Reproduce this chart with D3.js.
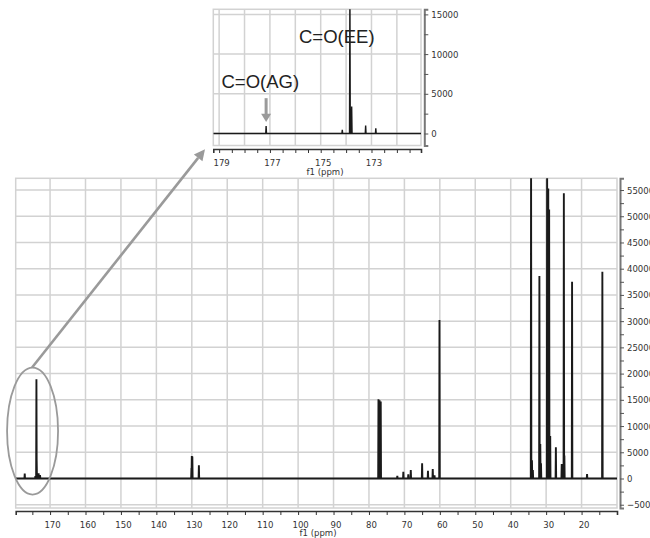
<!DOCTYPE html>
<html>
<head>
<meta charset="utf-8">
<script src="https://cdn.jsdelivr.net/npm/d3@7"></script>
<style>
  body { margin: 0; background: #fff; }
  text { font-family: "DejaVu Sans Condensed", "DejaVu Sans", sans-serif; font-size: 9.5px; fill: #333; }
  .lbl { font-family: "Liberation Sans", Arial, sans-serif; font-size: 18.5px; fill: #222; }
</style>
</head>
<body>
<script>
// peaks: shift (ppm) and height
var peakPpm = [177.15, 174.15, 173.85, 173.78, 173.23, 172.83,
  130.1, 130.0, 129.85, 128.0,
  77.32, 77.0, 76.68, 72.0, 70.3, 68.9, 68.2, 65.0, 63.35, 62.0, 61.5, 60.1,
  34.25, 34.0, 33.75, 31.9, 31.65, 31.45, 29.72, 29.4, 29.15, 28.85,
  27.25, 25.6, 25.0, 24.85, 22.68, 18.45, 14.13];
var peakHeight = [950, 450, 18900, 3400, 1000, 650,
  2000, 4300, 4200, 2500,
  15100, 14900, 14700, 500, 1300, 800, 1600, 2900, 1450, 1800, 600, 30200,
  62000, 3500, 1600, 38600, 6600, 2900, 62000, 55300, 51300, 8100,
  5950, 2750, 54400, 4400, 37500, 850, 39400];

var mainXTicks = [175, 170, 165, 160, 155, 150, 145, 140, 135, 130, 125, 120, 115, 110, 105, 100,
  95, 90, 85, 80, 75, 70, 65, 60, 55, 50, 45, 40, 35, 30, 25, 20, 15];
var mainYTicks = [-5000, -2500, 0, 2500, 5000, 7500, 10000, 12500, 15000, 17500, 20000, 22500, 25000,
  27500, 30000, 32500, 35000, 37500, 40000, 42500, 45000, 47500, 50000, 52500, 55000];
var insetXTicks = [179, 178.5, 178, 177.5, 177, 176.5, 176, 175.5, 175, 174.5, 174, 173.5, 173, 172.5, 172, 171.5];
var insetYTicks = [0, 2500, 5000, 7500, 10000, 12500, 15000];

var svg = d3.select("body").append("svg")
  .attr("width", 650)
  .attr("height", 538);

// build a spike for every peak, joined by the baseline
function spectrum(x0, x1, w) {
  var pts = [[x0, 0]];
  peakPpm.forEach(function(p, i) {
    if (p < x0 && p > x1) {
      pts.push([p + w, 0], [p, peakHeight[i]], [p - w, 0]);
    }
  });
  pts.push([x1, 0]);
  return pts;
}

function panel(g, x, y, opt) {
  var x0 = x.domain()[0], x1 = x.domain()[1];
  var r = x.range(), ry = y.range();
  var id = opt.id;

  // grid
  g.append("g").selectAll("line.v")
    .data(opt.xGrid).enter().append("line")
    .attr("x1", d => x(d)).attr("x2", d => x(d))
    .attr("y1", ry[1]).attr("y2", ry[0])
    .attr("stroke", "#d2d2d2").attr("stroke-width", 1.5);
  g.append("g").selectAll("line.h")
    .data(opt.yGrid).enter().append("line")
    .attr("x1", r[0]).attr("x2", r[1])
    .attr("y1", d => y(d)).attr("y2", d => y(d))
    .attr("stroke", "#d2d2d2").attr("stroke-width", 1.5);
  g.append("rect")
    .attr("x", r[0]).attr("y", ry[1])
    .attr("width", r[1] - r[0]).attr("height", ry[0] - ry[1])
    .attr("fill", "none").attr("stroke", "#d2d2d2").attr("stroke-width", 1.5);

  g.append("clipPath").attr("id", id)
    .append("rect")
    .attr("x", r[0]).attr("y", ry[1])
    .attr("width", r[1] - r[0]).attr("height", ry[0] - ry[1]);

  var line = d3.line().x(d => x(d[0])).y(d => y(d[1]));
  g.append("path")
    .datum(spectrum(x0, x1, opt.w))
    .attr("clip-path", "url(#" + id + ")")
    .attr("d", line)
    .attr("fill", "none")
    .attr("stroke", "#1a1a1a")
    .attr("stroke-width", opt.sw)
    .attr("stroke-linejoin", "miter");

  // bottom axis
  var bx = g.append("g")
    .attr("transform", "translate(0," + opt.axisY + ")")
    .call(d3.axisBottom(x).tickValues(opt.xTicks).tickSizeOuter(0).tickSize(4)
      .tickFormat(d => opt.xLabel(d) ? d : ""));
  bx.select(".domain").attr("stroke", "#333").attr("stroke-width", 1.6);
  bx.selectAll(".tick line").attr("stroke", "#333");
  bx.selectAll(".tick text").attr("dy", "1.1em").attr("dx", 2).style("font-size", "9.5px").attr("fill", "#333")
    .style("font-family", "'DejaVu Sans Condensed','DejaVu Sans',sans-serif");

  // right axis
  var ax = g.append("g")
    .attr("transform", "translate(" + opt.axisX + ",0)")
    .call(d3.axisRight(y).tickValues(opt.yTicks).tickSizeOuter(0).tickSize(4)
      .tickFormat(d => d % 5000 === 0 ? d3.format("d")(d) : ""));
  ax.select(".domain").attr("stroke", "#777").attr("stroke-width", 2);
  ax.selectAll(".tick line").attr("stroke", "#555");
  ax.selectAll(".tick text").attr("x", 7).style("font-size", "9.5px").attr("fill", "#333")
    .style("font-family", "'DejaVu Sans Condensed','DejaVu Sans',sans-serif");

  g.append("text")
    .attr("x", opt.titleX).attr("y", opt.titleY)
    .attr("text-anchor", "middle")
    .text("f1 (ppm)");
}

// main spectrum
var x = d3.scaleLinear().domain([179.7, 10.0]).range([15.7, 617]);
var y = d3.scaleLinear().domain([-5624, 57234]).range([508, 178.3]);
panel(svg.append("g"), x, y, {
  id: "clipMain", w: 0.08, sw: 1.9,
  xGrid: d3.range(170, 19, -10), yGrid: mainYTicks.filter(d => d % 5000 === 0),
  xTicks: mainXTicks, xLabel: d => d % 10 === 0,
  yTicks: mainYTicks, axisY: 511, axisX: 620,
  titleX: 318, titleY: 536
});

// inset
var xi = d3.scaleLinear().domain([179.23, 171.05]).range([213.3, 421]);
var yi = d3.scaleLinear().domain([-1510, 15640]).range([145.5, 9.3]);
panel(svg.append("g"), xi, yi, {
  id: "clipInset", w: 0.015, sw: 1.4,
  xGrid: [179, 178, 177, 176, 175, 174, 173, 172], yGrid: [0, 5000, 10000, 15000],
  xTicks: insetXTicks, xLabel: d => [179, 177, 175, 173].indexOf(d) >= 0,
  yTicks: insetYTicks, axisY: 149, axisX: 424.3,
  titleX: 325, titleY: 175
});

// annotations
svg.append("text").attr("class", "lbl")
  .attr("x", 299).attr("y", 42.5).text("C=O(EE)");
svg.append("text").attr("class", "lbl")
  .attr("x", 221.5).attr("y", 88.3).text("C=O(AG)");

// small arrow to the AG peak
var ax0 = xi(177.15);
svg.append("line")
  .attr("x1", ax0).attr("x2", ax0)
  .attr("y1", yi(4450)).attr("y2", yi(2300))
  .attr("stroke", "#9a9a9a").attr("stroke-width", 3);
svg.append("path")
  .attr("d", "M" + (ax0 - 5) + "," + yi(2500) + "L" + (ax0 + 5) + "," + yi(2500) + "L" + ax0 + "," + yi(1450) + "Z")
  .attr("fill", "#9a9a9a");

// ellipse round the carbonyl region and the arrow up to the inset
var cx = x(174.94), cy = y(9050);
svg.append("ellipse")
  .attr("cx", cx).attr("cy", cy)
  .attr("rx", 25.5).attr("ry", 63.5)
  .attr("fill", "none").attr("stroke", "#9a9a9a").attr("stroke-width", 1.8);

var sx = cx - 0.5, sy = cy - 63.5, ex = 205, ey = 149.3;
var ang = Math.atan2(ey - sy, ex - sx);
var hl = 11, hw = 5.5;
var bxp = ex - hl * Math.cos(ang), byp = ey - hl * Math.sin(ang);
svg.append("line")
  .attr("x1", sx).attr("y1", sy).attr("x2", bxp).attr("y2", byp)
  .attr("stroke", "#9a9a9a").attr("stroke-width", 2.6);
svg.append("path")
  .attr("d", "M" + ex + "," + ey +
    "L" + (bxp + hw * Math.sin(ang)) + "," + (byp - hw * Math.cos(ang)) +
    "L" + (bxp - hw * Math.sin(ang)) + "," + (byp + hw * Math.cos(ang)) + "Z")
  .attr("fill", "#9a9a9a");
</script>
</body>
</html>
